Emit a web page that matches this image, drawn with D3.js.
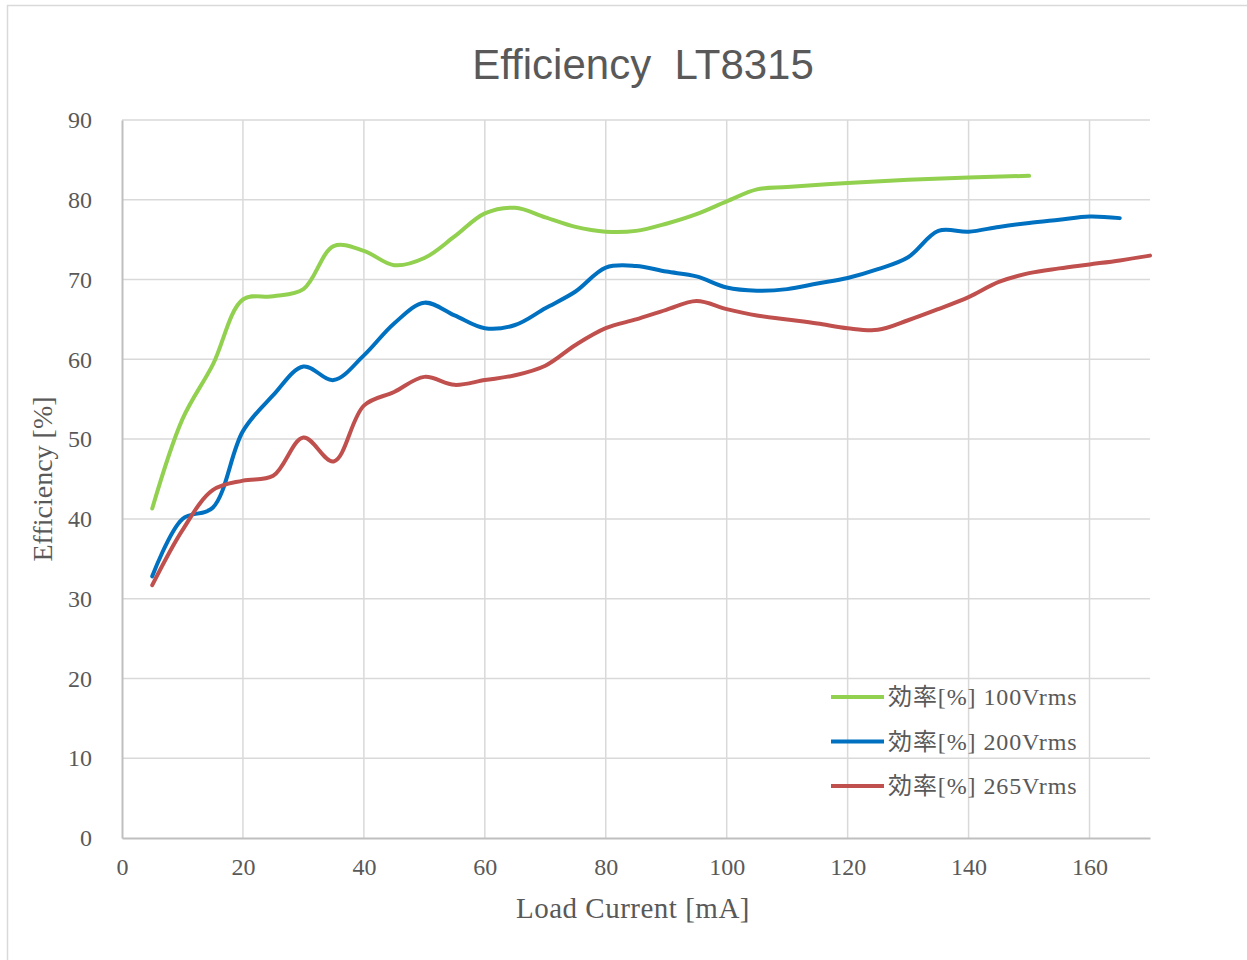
<!DOCTYPE html>
<html><head><meta charset="utf-8">
<script src="https://cdn.jsdelivr.net/npm/d3@7"></script>
<style>body{margin:0;background:#fff}svg{display:block}</style>
</head><body>
<svg id="chart" width="1247" height="960"></svg>
<script>
const title = "Efficiency  LT8315";
const xTitle = "Load Current [mA]";
const yTitle = "Efficiency [%]";
const xTicks = [0,20,40,60,80,100,120,140,160];
const yTicks = [0,10,20,30,40,50,60,70,80,90];
const seriesNames = ["効率[%] 100Vrms","効率[%] 200Vrms","効率[%] 265Vrms"];
const seriesColors = ["#92d050","#0070c0","#c0504d"];

const x100 = [5,10,15,20,25,30,35,40,45,50,55,60,65,70,75,80,85,90,95,100,105,110,120,130,140,150];
const y100 = [41.3,52.5,59.3,67.5,67.9,68.8,74.2,73.6,71.8,72.7,75.4,78.3,79.0,77.8,76.6,76.0,76.1,77.0,78.2,79.8,81.3,81.6,82.1,82.5,82.8,83.0];

const x200 = [5,10,15,20,25,30,35,40,45,50,55,60,65,70,75,80,85,90,95,100,105,110,115,120,125,130,135,140,145,150,155,160,165];
const y200 = [32.8,40.0,41.4,51.0,55.5,59.1,57.4,60.5,64.5,67.1,65.5,63.9,64.3,66.4,68.5,71.5,71.7,71.0,70.4,69.0,68.6,68.8,69.5,70.2,71.3,72.8,76.1,76.0,76.6,77.1,77.5,77.9,77.7];

const x265 = [5,10,15,20,25,30,35,40,45,50,55,60,65,70,75,80,85,90,95,100,105,110,115,120,125,130,135,140,145,150,155,160,165,170];
const y265 = [31.7,38.6,43.6,44.8,45.4,50.2,47.2,54.2,55.9,57.8,56.8,57.4,58.0,59.2,61.8,63.9,65.0,66.2,67.3,66.3,65.5,65.0,64.5,63.9,63.7,64.9,66.3,67.8,69.7,70.8,71.4,71.9,72.4,73.0];

const seriesX = [x100, x200, x265];
const seriesY = [y100, y200, y265];

const svg = d3.select("#chart");
const L = 122, R = 1150, T = 120, B = 838;
const x = d3.scaleLinear().domain([0,170]).range([L,R]);
const y = d3.scaleLinear().domain([0,90]).range([B,T]);
const txt = "#595959";
const serif = "'Liberation Serif','Noto Sans CJK JP',serif";

// outer frame
svg.append("rect").attr("x",7.5).attr("y",5.5).attr("width",1260).attr("height",980)
  .attr("fill","none").attr("stroke","#d9d9d9").attr("stroke-width",1.5);

// grid
svg.append("g").selectAll("line").data(yTicks.filter(d=>d>0)).join("line")
  .attr("x1",L).attr("x2",R).attr("y1",d=>y(d)).attr("y2",d=>y(d))
  .attr("stroke","#d9d9d9").attr("stroke-width",1.5);
svg.append("g").selectAll("line").data(xTicks.filter(d=>d>0)).join("line")
  .attr("x1",d=>x(d)).attr("x2",d=>x(d)).attr("y1",T).attr("y2",B)
  .attr("stroke","#d9d9d9").attr("stroke-width",1.5);

// axes
const yAxis = svg.append("g").attr("transform",`translate(${L},0)`)
  .call(d3.axisLeft(y).tickValues(yTicks).tickSize(0).tickPadding(30));
const xAxis = svg.append("g").attr("transform",`translate(0,${B})`)
  .call(d3.axisBottom(x).tickValues(xTicks).tickSize(0).tickPadding(20));
[yAxis,xAxis].forEach(a=>{
  a.select(".domain").attr("stroke","#bfbfbf").attr("stroke-width",2);
  a.selectAll("text").attr("fill",txt).style("font-family",serif).style("font-size","24px");
});

// lines
const line = d3.line().x(d=>x(d[0])).y(d=>y(d[1])).curve(d3.curveCatmullRom.alpha(0.5));
seriesX.forEach((xs,i)=>{
  const pts = xs.map((v,j)=>[v, seriesY[i][j]]);
  svg.append("path").datum(pts).attr("d",line).attr("fill","none")
    .attr("stroke",seriesColors[i]).attr("stroke-width",4).attr("stroke-linecap","round");
});

// title
svg.append("text").attr("x",643).attr("y",79).attr("text-anchor","middle")
  .attr("fill",txt).style("font-family","'Liberation Sans',Arial,sans-serif").style("font-size","42px")
  .style("white-space","pre").attr("xml:space","preserve").text(title);

// axis titles
svg.append("text").attr("x",633).attr("y",918).attr("text-anchor","middle")
  .attr("fill",txt).style("font-family",serif).style("font-size","29px").style("letter-spacing","0.5px").text(xTitle);
svg.append("text").attr("transform","translate(52,479) rotate(-90)").attr("text-anchor","middle")
  .attr("fill",txt).style("font-family",serif).style("font-size","28px").text(yTitle);

// legend
const lg = svg.append("g");
seriesNames.forEach((n,i)=>{
  const yy = 697 + i*44.5;
  lg.append("line").attr("x1",831).attr("x2",884).attr("y1",yy).attr("y2",yy)
    .attr("stroke",seriesColors[i]).attr("stroke-width",4);
  lg.append("text").attr("x",888).attr("y",yy).attr("dy","0.35em")
    .attr("fill",txt).style("font-family",serif).style("font-size","24px")
    .style("letter-spacing","0.9px").text(n);
});
</script>
</body></html>
